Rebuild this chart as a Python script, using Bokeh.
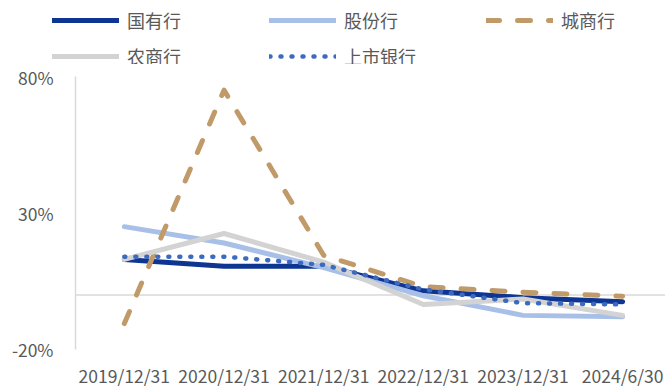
from bokeh.plotting import figure
from bokeh.layouts import column
from bokeh.models import Range1d, FixedTicker, Span, Legend, LegendItem
from bokeh.embed import file_html
from bokeh.resources import INLINE

categories = ["2019/12/31", "2020/12/31", "2021/12/31", "2022/12/31", "2023/12/31", "2024/6/30"]
series_names = ["国有行", "股份行", "城商行", "农商行", "上市银行"]
guoyou = [13.0, 10.5, 10.5, 1.5, -1.0, -2.5]
gufen = [25.0, 19.0, 10.0, -0.3, -7.5, -8.0]
chengshang = [-10.5, 75.0, 14.5, 3.0, 1.0, -0.5]
nongshang = [13.0, 22.5, 12.0, -3.5, -1.5, -7.5]
shangshi = [14.0, 14.0, 11.0, 2.0, -3.0, -3.5]
y_ticks = [-20, 30, 80]
y_tick_labels = ["-20%", "30%", "80%"]

FONT = "Noto Sans CJK SC"
TXT = "#595959"
LEG_H = 64

xs = list(range(len(categories)))
styles = [
    (guoyou, dict(line_color="#0d3591", line_width=5)),
    (gufen, dict(line_color="#a8c0e8", line_width=5)),
    (chengshang, dict(line_color="#c09a68", line_width=5, line_dash="13 18")),
    (nongshang, dict(line_color="#d3d3d3", line_width=5)),
    (shangshi, dict(line_color="#3c6ac0", line_width=4.5, line_dash="1 10")),
]

# ---- main chart ----
p = figure(width=665, height=390 - LEG_H, output_backend="svg", toolbar_location=None,
           x_range=Range1d(-0.49, 5.43), y_range=Range1d(-20, 80),
           min_border_left=75, min_border_right=0, min_border_top=76 - LEG_H, min_border_bottom=38)
p.outline_line_color = None
p.xgrid.visible = False
p.ygrid.visible = False
p.frame_align = False

p.add_layout(Span(location=0, dimension="width", line_color="#d9d9d9", line_width=1.5, level="underlay"))

for vals, st in styles:
    p.line(xs, vals, line_cap="round", line_join="round", **st)

xa = p.xaxis[0]
xa.ticker = FixedTicker(ticks=xs)
xa.major_label_overrides = {i: c for i, c in enumerate(categories)}
xa.axis_line_color = None
xa.major_tick_line_color = None
xa.minor_tick_line_color = None
xa.major_tick_out = 0
xa.major_tick_in = 0
xa.minor_tick_out = 0
xa.major_label_text_font = FONT
xa.major_label_text_font_size = "17.5px"
xa.major_label_text_color = TXT
xa.major_label_standoff = 13

ya = p.yaxis[0]
ya.ticker = FixedTicker(ticks=y_ticks)
ya.major_label_overrides = {t: l for t, l in zip(y_ticks, y_tick_labels)}
ya.axis_line_color = "#d9d9d9"
ya.axis_line_width = 1.5
ya.major_tick_line_color = None
ya.minor_tick_line_color = None
ya.major_tick_out = 0
ya.major_tick_in = 0
ya.minor_tick_out = 0
ya.major_label_text_font = FONT
ya.major_label_text_font_size = "17.5px"
ya.major_label_text_color = TXT
ya.major_label_standoff = 22

# ---- legend strip ----
lg = figure(width=665, height=LEG_H, output_backend="svg", toolbar_location=None,
            x_range=Range1d(0, 1), y_range=Range1d(0, 1), min_border=0,
            x_axis_location=None, y_axis_location=None)
lg.grid.visible = False
lg.outline_line_color = None
lg.frame_align = False
leg_renderers = []
for vals, st in styles:
    r = lg.line(xs, vals, line_cap="round", line_join="round", visible=False, **st)
    leg_renderers.append(r)

legend = Legend(items=[LegendItem(label=n, renderers=[r]) for n, r in zip(series_names, leg_renderers)],
                location=(52, -5), orientation="horizontal", ncols=3,
                glyph_width=67, glyph_height=20, label_height=20, label_width=132,
                label_standoff=8, spacing=10, padding=0, margin=0,
                border_line_color=None, background_fill_alpha=0,
                label_text_font=FONT, label_text_font_size="18px", label_text_color=TXT)
lg.add_layout(legend, "center")

layout = column(lg, p, spacing=0)
open("out.html", "w").write(file_html(layout, INLINE))
